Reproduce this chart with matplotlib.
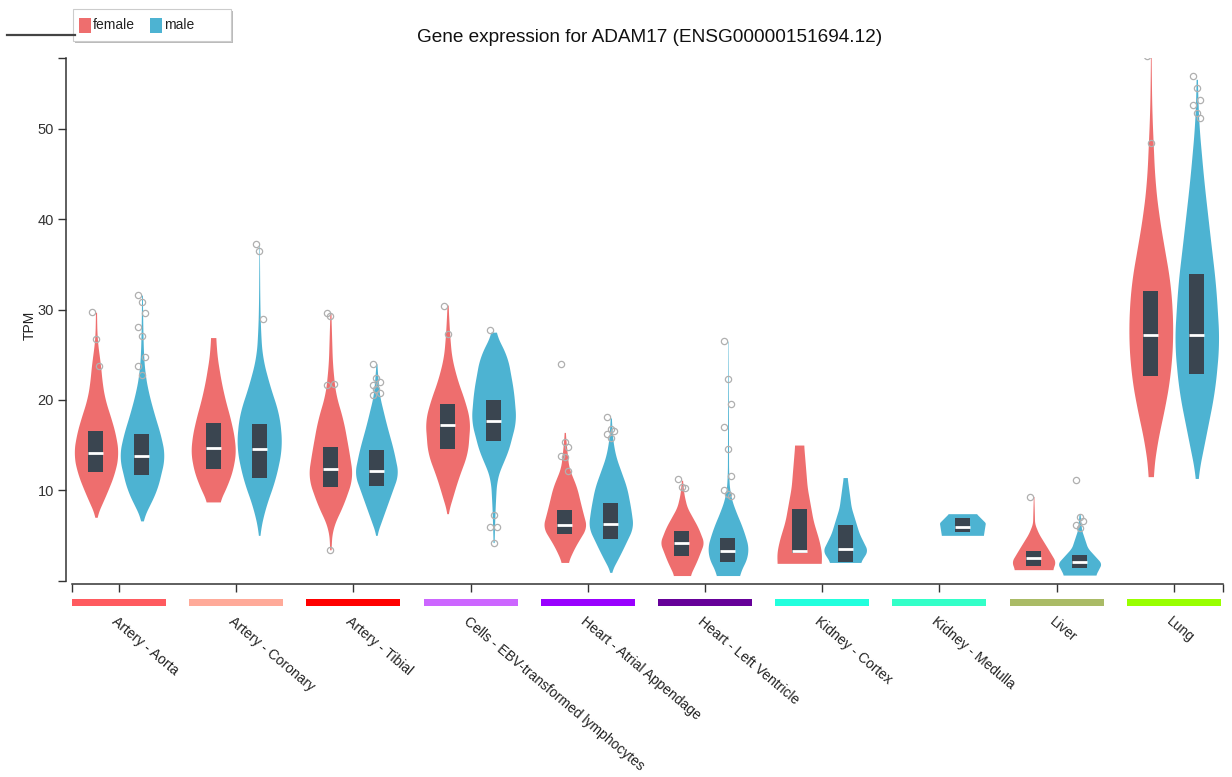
import numpy as np
import matplotlib
matplotlib.use("Agg")
import matplotlib.pyplot as plt
from matplotlib.patches import Rectangle
from matplotlib.lines import Line2D
import matplotlib.transforms as mtransforms

plt.rcParams['font.family'] = ['Liberation Sans', 'DejaVu Sans']

# ---------------- data ----------------
tissues = ["Artery - Aorta", "Artery - Coronary", "Artery - Tibial",
           "Cells - EBV-transformed lymphocytes", "Heart - Atrial Appendage",
           "Heart - Left Ventricle", "Kidney - Cortex", "Kidney - Medulla",
           "Liver", "Lung"]
tissue_colors = ["#FF5A5F", "#FFAA99", "#FF0000", "#CC66FF", "#9900FF",
                 "#660099", "#22FFDD", "#33FFC8", "#AABB66", "#99FF00"]

# violin outlines: TPM levels and half-width (relative density, 22.5 = widest)
female_prof_y = [
    [7.0, 8, 10, 12, 14, 16, 18, 20, 22, 24, 25, 27, 29.7],
    [8.7, 10, 12, 14.1, 16, 18, 20, 22, 24.7, 26.9],
    [3.4, 5.9, 8.1, 11.4, 14, 17.7, 20.7, 24, 29.6],
    [7.4, 9.2, 11.1, 14.1, 17.7, 20, 22.1, 24.7, 27.3, 30.5],
    [2.0, 3.7, 5.9, 8, 10.3, 12.5, 14.5, 16.4],
    [0.55, 2.2, 4.2, 5.9, 8.1, 9.5, 11.1],
    [1.9, 3.0, 4.4, 6.6, 10.3, 15.0],
    None,
    [1.2, 2.1, 3.4, 5.2, 6.3, 9.3],
    [11.5, 15.2, 19.1, 23.0, 27.6, 32.7, 36.5, 40.4, 44.3, 52.0, 58.1],
]
female_prof_w = [
    [0, 4, 12, 19, 22.5, 20, 15, 9, 6, 4.5, 3, 1, 0.5],
    [6, 12, 19, 22.5, 21, 17, 12, 8, 4, 2.5],
    [0.5, 2, 12, 22.5, 19, 13, 5, 2, 0.5],
    [0, 5, 10, 20, 22.5, 17, 10, 4, 2, 0.5],
    [3, 10, 22, 17, 12, 4, 2, 0.5],
    [8, 15, 22, 16, 5, 2, 0.5],
    [22, 22.5, 20, 14, 8, 4.5],
    None,
    [19, 22, 15, 5, 1, 0.3],
    [2, 6, 14, 20, 22.5, 20, 14, 8, 4, 1, 0.3],
]
male_prof_y = [
    [6.6, 8, 10, 13.7, 16, 18.5, 21, 22.9, 25, 28, 31.6],
    [5.0, 8.1, 11.1, 14.8, 18.5, 21, 24.7, 28, 31, 37.3],
    [5.0, 8.1, 11.8, 14.5, 17.3, 20.5, 22.5, 24],
    [4.2, 8, 11.1, 12.5, 14.1, 17.7, 21, 24.7, 26.5, 27.5],
    [0.9, 3.0, 5.9, 8, 10.3, 13.7, 15.5, 18],
    [0.55, 3.0, 5.5, 8.1, 9.5, 11.6, 26.5],
    [2.0, 3.3, 5.2, 8.1, 11.4],
    [5.0, 6.4, 7.4],
    [0.6, 1.9, 3.6, 5.6, 7.4],
    [11.3, 13.2, 17.1, 21.0, 26.4, 32.7, 38.4, 44.3, 50.5, 55.5],
]
male_prof_w = [
    [0, 6, 15, 23, 19, 12, 6, 3, 1.5, 0.8, 0.4],
    [0, 6, 16, 23, 20, 12, 3, 1.2, 0.6, 0.2],
    [0, 10, 22, 17, 10, 3, 1.5, 0.4],
    [0.5, 1.5, 3, 7, 14, 22.5, 20, 14, 6, 1.5],
    [0, 10, 22.5, 20, 16, 5, 2, 0.5],
    [10, 22, 16, 6, 2, 0.6, 0.2],
    [15, 22.5, 14, 6, 2],
    [21, 23, 14],
    [16, 22, 8, 2, 0.5],
    [0.5, 4, 11, 18, 22.5, 19, 13, 7, 2, 0.5],
]

female_q1 = [12.0, 12.4, 10.3, 14.6, 5.1, 2.7, 3.0, None, 1.6, 22.6]
female_med = [14.1, 14.7, 12.3, 17.2, 6.2, 4.2, 3.3, None, 2.5, 27.2]
female_q3 = [16.6, 17.4, 14.8, 19.5, 7.8, 5.5, 7.9, None, 3.3, 32.1]
male_q1 = [11.7, 11.3, 10.5, 15.5, 4.6, 2.0, 2.1, 5.4, 1.35, 22.9]
male_med = [13.8, 14.6, 12.1, 17.7, 6.3, 3.3, 3.5, 5.9, 2.1, 27.2]
male_q3 = [16.2, 17.3, 14.4, 20.0, 8.6, 4.7, 6.2, 6.9, 2.8, 33.9]

female_out = [
    [29.7, 26.7, 23.7], [], [29.6, 29.3, 21.8, 21.6, 3.4], [30.4, 27.3],
    [24.0, 15.3, 14.8, 13.8, 13.7, 12.1], [11.2, 10.3, 10.2], [], [],
    [9.3], [58.1, 48.4],
]
male_out = [
    [31.6, 30.8, 29.6, 28.1, 27.1, 24.7, 23.8, 22.8], [37.3, 36.5, 29.0],
    [24.0, 22.4, 22.0, 21.6, 21.2, 20.8, 20.5], [27.7, 7.2, 5.9, 5.9, 4.2],
    [18.1, 16.8, 16.5, 16.2, 15.8],
    [26.5, 22.3, 19.6, 17.0, 14.6, 11.6, 10.0, 9.6, 9.4], [], [],
    [11.1, 7.0, 6.6, 6.2, 5.8], [55.9, 54.5, 53.2, 52.7, 51.8, 51.2],
]

FEMALE = "#EE6E6E"
MALE = "#4DB3D2"
BOX = "#3A4550"

# ---------------- layout ----------------
W, H = 1232, 777
fig = plt.figure(figsize=(W / 100, H / 100), dpi=100)
ax_l, ax_r, ax_t, ax_b = 72, 1223, 58, 580.5
ax = fig.add_axes([ax_l / W, 1 - ax_b / H, (ax_r - ax_l) / W, (ax_b - ax_t) / H])
y_max = 57.86
x_lo, x_hi = -0.401, 9.42
ax.set_xlim(x_lo, x_hi)
ax.set_ylim(0, y_max)
px = (x_hi - x_lo) / (ax_r - ax_l)  # data units per pixel in x

offset = 23 * px
max_hw = 22.5 * px
box_hw = 7.5 * px


def draw_violin(xc, ys, ws, color):
    ys = np.asarray(ys, float)
    ws = np.asarray(ws, float) / 22.5
    yy = np.linspace(ys[0], ys[-1], 300)
    ww = np.interp(yy, ys, ws)
    k = 15
    pad = np.pad(ww, k, mode='edge')
    ww = np.convolve(pad, np.ones(2 * k + 1) / (2 * k + 1), mode='same')[k:-k]
    ax.fill_betweenx(yy, xc - ww * max_hw, xc + ww * max_hw, color=color,
                     lw=0, zorder=2)


def draw_box(xc, q1, med, q3):
    ax.add_patch(Rectangle((xc - box_hw, q1), 2 * box_hw, q3 - q1,
                           facecolor=BOX, edgecolor='none', zorder=3))
    ax.plot([xc - box_hw, xc + box_hw], [med, med], color='white', lw=2,
            solid_capstyle='butt', zorder=4)


def draw_outliers(xc, vals):
    for j, v in enumerate(vals):
        dx = ((j % 3) - 1) * 3.5 * px
        ax.plot(xc + dx, v, 'o', ms=4.5, mfc='none', mec='#B0B0B0', mew=0.9,
                zorder=5)


for i in range(len(tissues)):
    if female_prof_y[i] is not None:
        xf = i - offset
        draw_violin(xf, female_prof_y[i], female_prof_w[i], FEMALE)
        draw_box(xf, female_q1[i], female_med[i], female_q3[i])
        draw_outliers(xf, female_out[i])
    xm = i + offset
    draw_violin(xm, male_prof_y[i], male_prof_w[i], MALE)
    draw_box(xm, male_q1[i], male_med[i], male_q3[i])
    draw_outliers(xm, male_out[i])

# ---------------- axes styling ----------------
for s in ['top', 'right']:
    ax.spines[s].set_visible(False)
ax.spines['left'].set_position(('outward', 4))
ax.spines['bottom'].set_position(('outward', 2.5))
for s in ['left', 'bottom']:
    ax.spines[s].set_color('#333333')
    ax.spines[s].set_linewidth(1.1)

ax.set_yticks([10, 20, 30, 40, 50])
ax.set_yticks([0, y_max], minor=True)
ax.tick_params(axis='y', which='both', length=6, width=1, color='#333333',
               labelsize=10.5, labelcolor='#333333', pad=3)
ax.set_xticks(range(len(tissues)))
ax.set_xticks([x_lo, x_hi], minor=True)
ax.set_xticklabels([])
ax.tick_params(axis='x', which='both', length=6, width=1, color='#333333')

blend = mtransforms.blended_transform_factory(ax.transData, ax.transAxes)
h_ax = ax_b - ax_t
for i, (name, col) in enumerate(zip(tissues, tissue_colors)):
    ax.add_patch(Rectangle((i - 47 * px, -25 / h_ax), 94 * px, 7 / h_ax,
                           transform=blend, facecolor=col, edgecolor='none',
                           clip_on=False))
    ax.text(i - 1 * px, -34 / h_ax, name, transform=blend, rotation=-40,
            rotation_mode='anchor', ha='left', va='top', fontsize=10.0,
            color='#222222')

fig.text(30 / W, 1 - 325 / H, "TPM", rotation=90, ha='center', va='center',
         fontsize=10, color='#222222')
fig.text(650 / W, 1 - 37 / H, "Gene expression for ADAM17 (ENSG00000151694.12)",
         ha='center', va='center', fontsize=13.7, color='#111111')


# ---------------- legend ----------------
def fx(x):
    return x / W


def fy(y):
    return 1 - y / H


fig.add_artist(Line2D([fx(7), fx(75)], [fy(35), fy(35)], color='#444444',
                      lw=1.6, transform=fig.transFigure))
fig.add_artist(Rectangle((fx(75), fy(43)), fx(158), 32 / H,
                         transform=fig.transFigure, facecolor='#BBBBBB',
                         edgecolor='none'))
fig.add_artist(Rectangle((fx(73), fy(41)), fx(158), 32 / H,
                         transform=fig.transFigure, facecolor='white',
                         edgecolor='#CCCCCC', lw=0.8))
fig.add_artist(Rectangle((fx(79), fy(33)), fx(12), 15 / H,
                         transform=fig.transFigure, facecolor=FEMALE,
                         edgecolor='none'))
fig.text(fx(93), fy(25), "female", ha='left', va='center', fontsize=10,
         color='#222222')
fig.add_artist(Rectangle((fx(150), fy(33)), fx(12), 15 / H,
                         transform=fig.transFigure, facecolor=MALE,
                         edgecolor='none'))
fig.text(fx(164), fy(25), "male", ha='left', va='center', fontsize=10,
         color='#222222')

fig.savefig("out.png", dpi=100)
